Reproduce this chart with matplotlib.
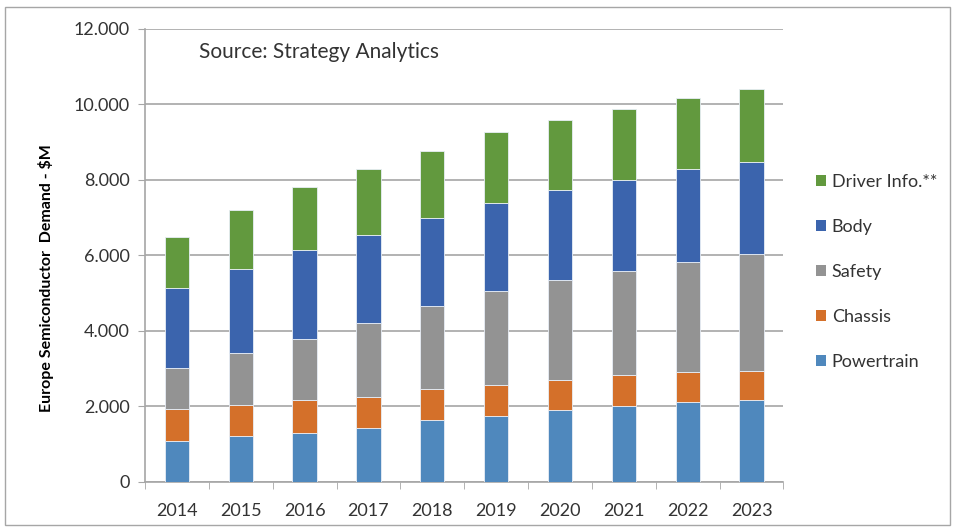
import matplotlib.pyplot as plt
import matplotlib.patches as mpatches
from matplotlib.ticker import FuncFormatter, FixedLocator
import numpy as np

plt.rcParams["font.family"] = ["Lato", "DejaVu Sans"]

years = ["2014", "2015", "2016", "2017", "2018", "2019", "2020", "2021", "2022", "2023"]
powertrain = [1090, 1220, 1290, 1420, 1640, 1750, 1920, 2000, 2120, 2160]
chassis = [840, 820, 880, 830, 820, 830, 780, 830, 790, 790]
safety = [1100, 1370, 1610, 1950, 2190, 2470, 2640, 2760, 2930, 3090]
body = [2110, 2230, 2360, 2340, 2340, 2350, 2400, 2400, 2440, 2440]
driver_info = [1360, 1560, 1680, 1740, 1780, 1860, 1860, 1890, 1900, 1940]

series = [
    ("Powertrain", powertrain, "#4f88bd"),
    ("Chassis", chassis, "#d4702a"),
    ("Safety", safety, "#939393"),
    ("Body", body, "#3b64ad"),
    ("Driver Info.**", driver_info, "#62993e"),
]

fig = plt.figure(figsize=(9.55, 5.31), dpi=100)
ax = fig.add_axes([0.1518, 0.0923, 0.6686, 0.8531])

x = np.arange(len(years))
bottom = np.zeros(len(years))
handles = []
for name, vals, col in series:
    ax.bar(x, vals, width=0.38, bottom=bottom, color=col,
           edgecolor="#e8eef6", linewidth=0.6, zorder=3)
    bottom += np.array(vals)
    handles.append(mpatches.Patch(facecolor=col, label=name))

ax.set_xlim(-0.5, len(years) - 0.5)
ax.set_ylim(0, 12000)
ax.set_yticks(np.arange(0, 12001, 2000))
ax.yaxis.set_major_formatter(
    FuncFormatter(lambda v, p: "0" if v == 0 else f"{int(v):,}".replace(",", "."))
)
ax.set_xticks(x)
ax.set_xticklabels(years)
ax.xaxis.set_minor_locator(FixedLocator(np.arange(-0.5, len(years), 1.0)))
ax.tick_params(axis="x", which="major", length=0, pad=15, labelsize=13, colors="#333333")
ax.tick_params(axis="x", which="minor", length=5, color="#a6a6a6", direction="out")
ax.tick_params(axis="y", length=5, color="#a6a6a6", labelsize=13, colors="#333333", pad=6)

ax.grid(axis="y", color="#a6a6a6", linewidth=1.2, zorder=0)
for s in ["top", "right"]:
    ax.spines[s].set_visible(False)
for s in ["left", "bottom"]:
    ax.spines[s].set_color("#a6a6a6")
    ax.spines[s].set_linewidth(1.2)

ax.set_ylabel("Europe Semiconductor  Demand - $M", fontsize=11.5, fontweight="bold")
ax.yaxis.set_label_coords(-0.143, 0.45)

ax.text(0.085, 0.95, "Source: Strategy Analytics", transform=ax.transAxes,
        fontsize=15, color="#333333", va="center")

leg = fig.legend(handles=handles[::-1], loc="upper left", bbox_to_anchor=(0.837, 0.7025),
                 frameon=False, fontsize=13, labelspacing=1.6, handlelength=0.55,
                 handleheight=0.55, handletextpad=0.35)
for t in leg.get_texts():
    t.set_color("#333333")

fig.add_artist(mpatches.Rectangle((0.005, 0.012), 0.99, 0.975, transform=fig.transFigure,
                                  fill=False, edgecolor="#a6a6a6", linewidth=1.0))

fig.savefig("out.png", dpi=100)
